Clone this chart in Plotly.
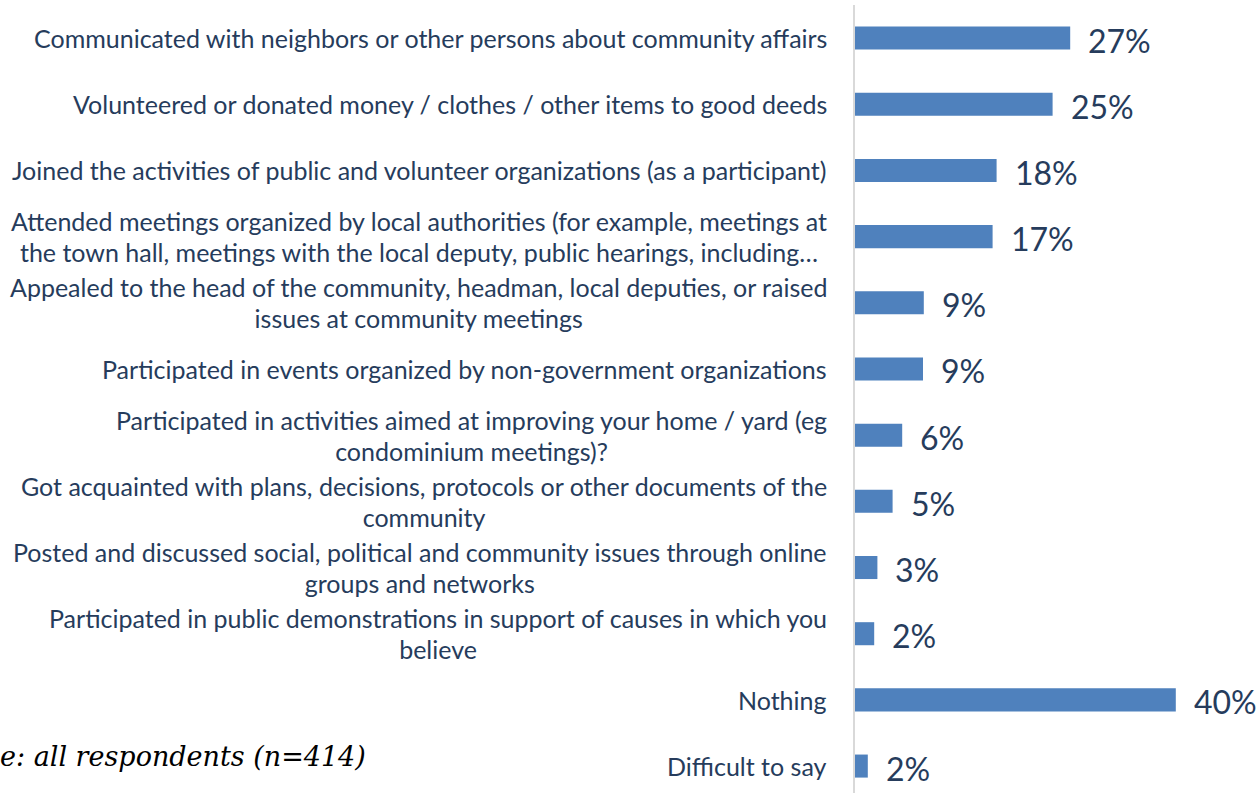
import plotly.graph_objects as go

categories = [
    "Communicated with neighbors or other persons about community affairs",
    "Volunteered or donated money / clothes / other items to good deeds",
    "Joined the activities of public and volunteer organizations (as a participant)",
    "Attended meetings organized by local authorities (for example, meetings at<br>the town hall, meetings with the local deputy, public hearings, including…",
    "Appealed to the head of the community, headman, local deputies, or raised<br>issues at community meetings",
    "Participated in events organized by non-government organizations",
    "Participated in activities aimed at improving your home / yard (eg<br>condominium meetings)?",
    "Got acquainted with plans, decisions, protocols or other documents of the<br>community",
    "Posted and discussed social, political and community issues through online<br>groups and networks",
    "Participated in public demonstrations in support of causes in which you<br>believe",
    "Nothing",
    "Difficult to say",
]
values = [26.9, 24.7, 17.7, 17.2, 8.6, 8.5, 5.9, 4.7, 2.8, 2.4, 40.1, 1.6]
value_labels = ["27%", "25%", "18%", "17%", "9%", "9%", "6%", "5%", "3%", "2%", "40%", "2%"]
footnote = "e: all respondents (n=414)"

TEXT = "#263C5C"
BAR = "#4F81BD"
W, H = 1258, 793
ML, MR, MT, MB = 855, 3, 5, 0
plot_w = W - ML - MR
plot_h = H - MT - MB
pitch = 66.18
y_bottom = -0.5 + plot_h / pitch

ids = list(range(len(categories)))

fig = go.Figure(go.Bar(
    x=values, y=ids, orientation="h",
    marker=dict(color=BAR, line=dict(width=0)),
    hoverinfo="skip",
))

annotations = []
for i, (cat, v, lab) in enumerate(zip(categories, values, value_labels)):
    lines = cat.split("<br>")
    txt = "<br>".join(f"<span style='font-size:25px'>{ln}</span>" for ln in lines)
    annotations.append(dict(
        x=0, xref="paper", y=i, yref="y", text=txt, showarrow=False,
        xanchor="right", yanchor="middle", align="center", xshift=-26,
        font=dict(family="Lato", size=24, color=TEXT),
    ))
    annotations.append(dict(
        x=v, xref="x", y=i, yref="y", text=lab, showarrow=False,
        xanchor="left", yanchor="middle", xshift=16, yshift=-2,
        font=dict(family="Lato", size=32, color=TEXT),
    ))

annotations.append(dict(
    x=-ML / plot_w, xref="paper", y=11.0, yref="y", yshift=10, xshift=-2,
    text=f"<i>{footnote}</i>", showarrow=False, xanchor="left", yanchor="middle",
    font=dict(family="DejaVu Serif", size=27, color="#000000"),
))

fig.update_layout(
    width=W, height=H,
    margin=dict(l=ML, r=MR, t=MT, b=MB),
    paper_bgcolor="white", plot_bgcolor="white",
    showlegend=False,
    bargap=0.652,
    annotations=annotations,
    xaxis=dict(range=[0, plot_w / 8.0], showgrid=False, zeroline=False,
               showticklabels=False, showline=False, ticks=""),
    yaxis=dict(range=[y_bottom, -0.5], showgrid=False, zeroline=False,
               showticklabels=False, showline=True, linecolor="#D9D9D9",
               linewidth=2, ticks=""),
)

fig.write_html(
    "out.html",
    config={"displayModeBar": False},
    post_script="document.body.style.margin='0';document.body.style.overflow='hidden';",
)
